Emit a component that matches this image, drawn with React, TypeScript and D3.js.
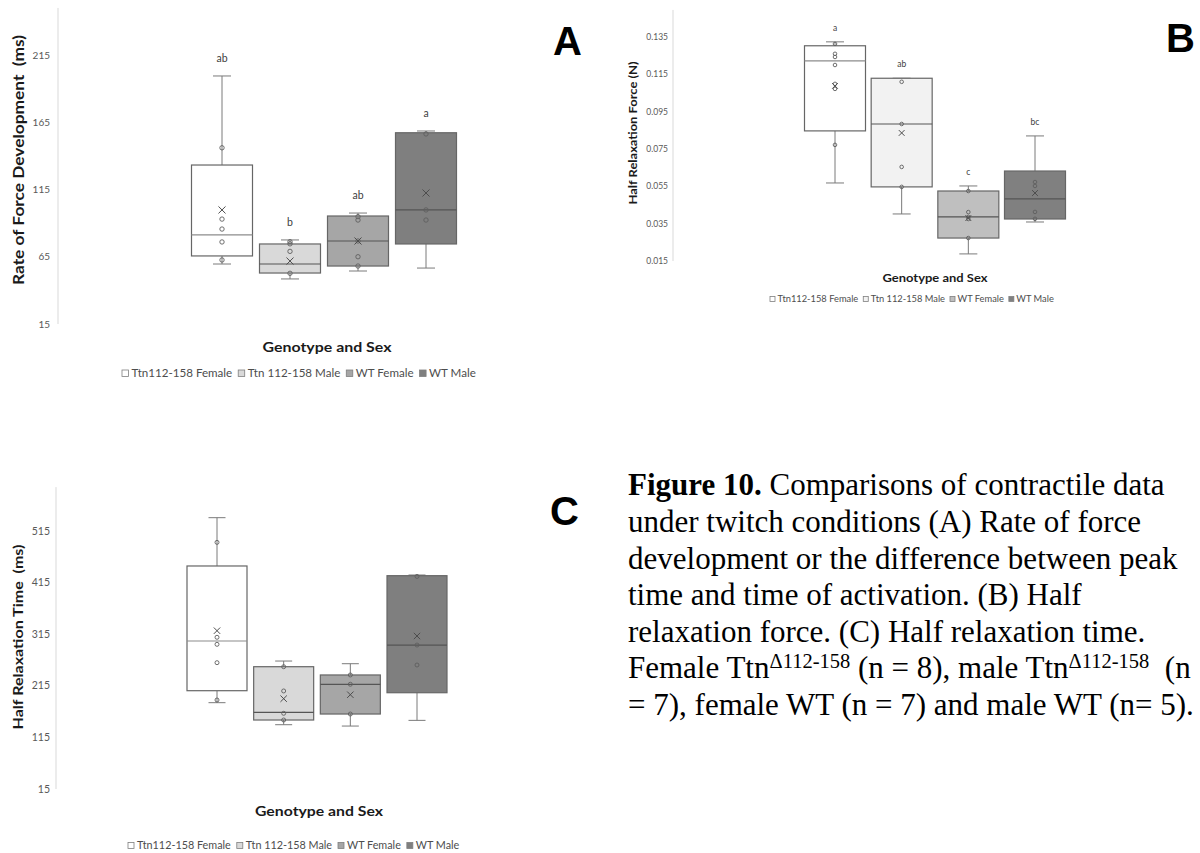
import React, { useEffect, useRef } from "react";
import * as d3 from "d3";

// groups shared by all three panels
const groups = ["Ttn112-158 Female", "Ttn 112-158 Male", "WT Female", "WT Male"];

// A: rate of force development (ms)
const rfdMin = [59.6, 48.5, 54.4, 56.6];
const rfdQ1 = [65.6, 52.9, 58.1, 74.5];
const rfdMedian = [81.2, 59.6, 76.7, 99.8];
const rfdQ3 = [133.2, 74.5, 95.3, 157.2];
const rfdMax = [199.4, 77.5, 97.5, 158.5];
const rfdMean = [99.8, 61.8, 76.7, 112.4];
const rfdPoints = [
  [146, 93, 85.6, 76, 62.6],
  [76.2, 74.6, 69, 52.7],
  [94.8, 92.3, 76.7, 65, 58.1],
  [156.3, 99.8, 92.3],
];
const rfdLetters = ["ab", "b", "ab", "a"];
const rfdTicks = [15, 65, 115, 165, 215];

// B: half relaxation force (N)
const hrfMin = [0.0568, 0.0402, 0.0188, 0.0359];
const hrfQ1 = [0.0847, 0.0547, 0.0273, 0.0375];
const hrfMedian = [0.1222, 0.0884, 0.0386, 0.0483];
const hrfQ3 = [0.1303, 0.1129, 0.0525, 0.0632];
const hrfMax = [0.1324, 0.1129, 0.0552, 0.082];
const hrfMean = [0.1088, 0.0836, 0.038, 0.0514];
const hrfPoints = [
  [0.1313, 0.126, 0.1243, 0.12, 0.1099, 0.1072, 0.0772],
  [0.111, 0.0884, 0.0654, 0.0547],
  [0.0525, 0.0412, 0.0386, 0.0375, 0.0273],
  [0.0573, 0.0552, 0.0413, 0.0376],
];
const hrfLetters = ["a", "ab", "c", "bc"];
const hrfTicks = [0.015, 0.035, 0.055, 0.075, 0.095, 0.115, 0.135];

// C: half relaxation time (ms)
const hrtMin = [182.3, 139.6, 137, 148];
const hrtQ1 = [205.5, 148.7, 160.3, 201.6];
const hrtMedian = [301.8, 163.6, 217.9, 294];
const hrtQ3 = [447.2, 252, 236, 428.4];
const hrtMax = [540.8, 263, 257.8, 429.7];
const hrtMean = [321.8, 190, 197.7, 311.5];
const hrtPoints = [
  [493, 309, 295.4, 259.8, 187.5],
  [252, 205, 161.7, 148.7],
  [236, 218, 160.3],
  [427, 294, 255.3],
];
const hrtLetters = ["", "", "", ""];
const hrtTicks = [15, 115, 215, 315, 415, 515];

const captionLines = [
  [["b", "Figure 10."], ["", " Comparisons of contractile data"]],
  [["", "under twitch conditions (A) Rate of force"]],
  [["", "development or the difference between peak"]],
  [["", "time and time of activation. (B) Half"]],
  [["", "relaxation force. (C) Half relaxation time."]],
  [["", "Female Ttn"], ["s", "\u0394112-158"], ["", " (n = 8), male Ttn"], ["s", "\u0394112-158"], ["", "  (n"]],
  [["", "= 7), female WT (n = 7) and male WT (n= 5)."]],
];

const font = "Lato, 'Open Sans', sans-serif";
const textGray = "#595959";

const drawPanel = (svg, p) => {
  const g = svg.append("g");
  const y = d3.scaleLinear().domain(p.domain).range(p.range);
  const x = d3.scalePoint().domain(groups).range(p.centers);

  // axis line
  g.append("line")
    .attr("x1", p.axisX).attr("x2", p.axisX)
    .attr("y1", y(p.axisTop)).attr("y2", y(p.domain[0]))
    .attr("stroke", "#d9d9d9").attr("stroke-width", 1);

  g.selectAll(".tick")
    .data(p.ticks)
    .enter()
    .append("text")
    .attr("x", p.tickX)
    .attr("y", d => y(d))
    .attr("dy", "0.35em")
    .attr("text-anchor", "end")
    .attr("font-family", font)
    .attr("font-size", p.tickSize)
    .attr("fill", textGray)
    .text(d => p.fmt(d));

  groups.forEach((grp, i) => {
    const cx = x(grp);
    const hw = p.boxW / 2;
    const bg = g.append("g");
    // whiskers
    bg.append("line").attr("x1", cx).attr("x2", cx)
      .attr("y1", y(p.max[i])).attr("y2", y(p.q3[i]))
      .attr("stroke", "#7a7a7a");
    bg.append("line").attr("x1", cx).attr("x2", cx)
      .attr("y1", y(p.q1[i])).attr("y2", y(p.min[i]))
      .attr("stroke", "#7a7a7a");
    [p.max[i], p.min[i]].forEach(v => {
      bg.append("line")
        .attr("x1", cx - p.capW / 2).attr("x2", cx + p.capW / 2)
        .attr("y1", y(v)).attr("y2", y(v))
        .attr("stroke", "#7a7a7a");
    });
    // box
    bg.append("rect")
      .attr("x", cx - hw)
      .attr("y", y(p.q3[i]))
      .attr("width", p.boxW)
      .attr("height", y(p.q1[i]) - y(p.q3[i]))
      .attr("fill", p.fills[i])
      .attr("stroke", "#666")
      .attr("stroke-width", 1.2);
    bg.append("line")
      .attr("x1", cx - hw).attr("x2", cx + hw)
      .attr("y1", y(p.median[i])).attr("y2", y(p.median[i]))
      .attr("stroke", i === 0 ? "#8c8c8c" : "#555")
      .attr("stroke-width", 1.2);
    // inner points
    bg.selectAll("circle")
      .data(p.points[i])
      .enter()
      .append("circle")
      .attr("cx", cx)
      .attr("cy", d => y(d))
      .attr("r", p.r)
      .attr("fill", "none")
      .attr("stroke", "#5f5f5f")
      .attr("stroke-width", 0.9);
    // mean
    const my = y(p.mean[i]);
    const s = p.r * 1.6;
    bg.append("path")
      .attr("d", `M${cx - s},${my - s}L${cx + s},${my + s}M${cx - s},${my + s}L${cx + s},${my - s}`)
      .attr("stroke", "#4d4d4d")
      .attr("stroke-width", 1);
    // significance letter
    if (p.letters[i]) {
      bg.append("text")
        .attr("x", cx)
        .attr("y", y(p.max[i]) - p.letterOff)
        .attr("text-anchor", "middle")
        .attr("font-family", font)
        .attr("font-size", p.letterSize)
        .attr("fill", "#404040")
        .text(p.letters[i]);
    }
  });

  // axis titles
  g.append("text")
    .attr("transform", `translate(${p.yTitle.x},${p.yTitle.y}) rotate(-90)`)
    .attr("text-anchor", "middle")
    .attr("dominant-baseline", "central")
    .attr("font-family", font)
    .attr("font-weight", "bold")
    .attr("font-size", p.yTitle.size)
    .attr("textLength", p.yTitle.len)
    .attr("lengthAdjust", "spacingAndGlyphs")
    .attr("fill", "#1a1a1a")
    .style("white-space", "pre")
    .text(p.yTitle.text);

  g.append("text")
    .attr("x", p.xTitle.x)
    .attr("y", p.xTitle.y)
    .attr("text-anchor", "middle")
    .attr("font-family", font)
    .attr("font-weight", "bold")
    .attr("font-size", p.xTitle.size)
    .attr("textLength", p.xTitle.len)
    .attr("lengthAdjust", "spacingAndGlyphs")
    .attr("fill", "#1a1a1a")
    .text("Genotype and Sex");

  // legend
  let lx = p.legend.x;
  const sw = p.legend.sw;
  groups.forEach((grp, i) => {
    g.append("rect")
      .attr("x", lx)
      .attr("y", p.legend.y - sw - 0.5)
      .attr("width", sw)
      .attr("height", sw)
      .attr("fill", p.fills[i])
      .attr("stroke", "#7f7f7f")
      .attr("stroke-width", 0.8);
    lx += sw + p.legend.gap1;
    const t = g.append("text")
      .attr("x", lx)
      .attr("y", p.legend.y)
      .attr("font-family", font)
      .attr("font-size", p.legend.size)
      .attr("fill", "#4d4d4d")
      .text(grp);
    lx += t.node().getComputedTextLength() + p.legend.gap2;
  });

  // panel letter
  svg.append("text")
    .attr("x", p.tag.x)
    .attr("y", p.tag.y)
    .attr("font-family", "'Liberation Sans', Arial, sans-serif")
    .attr("font-weight", "bold")
    .attr("font-size", 40)
    .attr("fill", "#000")
    .text(p.tag.text);
};

const App = () => {
  const ref = useRef(null);

  useEffect(() => {
    const svg = d3.select(ref.current);
    svg.selectAll("*").remove();

    svg.append("rect").attr("width", 1200).attr("height", 853).attr("fill", "#fff");

    drawPanel(svg, {
      domain: [15, 215], range: [324, 55], axisTop: 250, axisX: 58, tickX: 50, tickSize: 10,
      ticks: rfdTicks, fmt: d3.format("d"),
      centers: [222, 426], boxW: 61, capW: 18, r: 2.2,
      min: rfdMin, q1: rfdQ1, median: rfdMedian, q3: rfdQ3, max: rfdMax, mean: rfdMean,
      points: rfdPoints, letters: rfdLetters, letterSize: 10.5, letterOff: 14,
      fills: ["#ffffff", "#d9d9d9", "#a6a6a6", "#7f7f7f"],
      yTitle: { x: 18, y: 160, size: 14.5, len: 250, text: "Rate of Force Development  (ms)" },
      xTitle: { x: 327, y: 352, size: 14, len: 129 },
      legend: { x: 122, y: 377, size: 11.6, sw: 6.5, gap1: 3, gap2: 6 },
      tag: { text: "A", x: 553, y: 55 },
    });

    drawPanel(svg, {
      domain: [0.015, 0.135], range: [261, 37], axisTop: 0.1495, axisX: 673, tickX: 668, tickSize: 8.5,
      ticks: hrfTicks, fmt: d3.format(".3f"),
      centers: [835, 1035], boxW: 61, capW: 18, r: 1.8,
      min: hrfMin, q1: hrfQ1, median: hrfMedian, q3: hrfQ3, max: hrfMax, mean: hrfMean,
      points: hrfPoints, letters: hrfLetters, letterSize: 8.5, letterOff: 11,
      fills: ["#ffffff", "#f2f2f2", "#bfbfbf", "#808080"],
      yTitle: { x: 633, y: 133, size: 10.5, len: 143, text: "Half Relaxation Force (N)" },
      xTitle: { x: 935, y: 282, size: 10.5, len: 105 },
      legend: { x: 770, y: 302, size: 9.3, sw: 5, gap1: 2.5, gap2: 5 },
      tag: { text: "B", x: 1166, y: 52 },
    });

    drawPanel(svg, {
      domain: [15, 515], range: [789, 531], axisTop: 600, axisX: 56, tickX: 50, tickSize: 10.5,
      ticks: hrtTicks, fmt: d3.format("d"),
      centers: [217, 417], boxW: 60, capW: 17, r: 2,
      min: hrtMin, q1: hrtQ1, median: hrtMedian, q3: hrtQ3, max: hrtMax, mean: hrtMean,
      points: hrtPoints, letters: hrtLetters, letterSize: 10, letterOff: 13,
      fills: ["#ffffff", "#d9d9d9", "#a6a6a6", "#7f7f7f"],
      yTitle: { x: 18, y: 637, size: 13, len: 185, text: "Half Relaxation Time  (ms)" },
      xTitle: { x: 319, y: 816, size: 13, len: 128 },
      legend: { x: 128, y: 849, size: 10.8, sw: 6, gap1: 3, gap2: 6 },
      tag: { text: "C", x: 550, y: 525 },
    });

    // caption
    const cap = svg.append("g")
      .attr("font-family", "'Liberation Serif', 'Times New Roman', serif")
      .attr("font-size", 31)
      .attr("fill", "#000");
    const baselines = [495, 532, 568.5, 605, 641.5, 678, 715];
    captionLines.forEach((parts, i) => {
      const t = cap.append("text")
        .attr("x", 628)
        .attr("y", baselines[i])
        .style("white-space", "pre");
      parts.forEach(([kind, str]) => {
        const ts = t.append("tspan").text(str);
        if (kind === "b") ts.attr("font-weight", "bold");
        if (kind === "s") ts.attr("font-size", 20.5).attr("baseline-shift", "10");
      });
    });
  }, []);

  return (
    <svg
      ref={ref}
      width={1200}
      height={853}
      style={{ position: "absolute", left: 0, top: 0 }}
    />
  );
};

export default App;
